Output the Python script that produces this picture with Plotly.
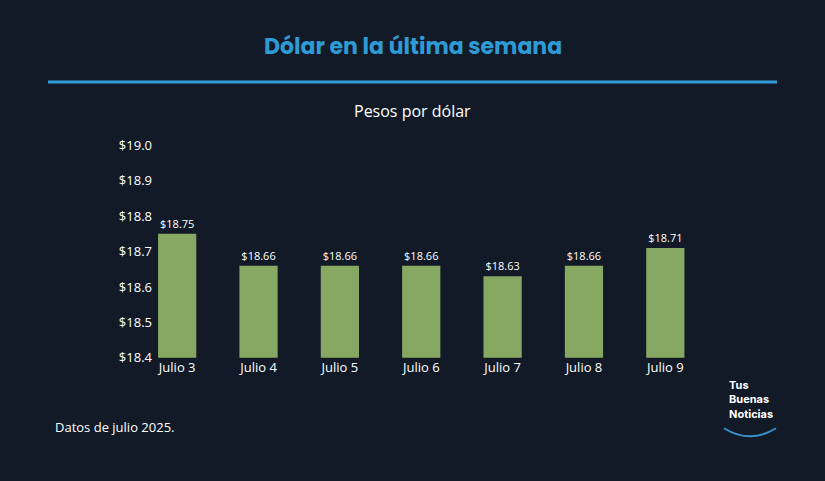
import plotly.graph_objects as go

dias = ["Julio 3", "Julio 4", "Julio 5", "Julio 6", "Julio 7", "Julio 8", "Julio 9"]
precios = [18.75, 18.66, 18.66, 18.66, 18.63, 18.66, 18.71]
ticks = [18.4, 18.5, 18.6, 18.7, 18.8, 18.9, 19.0]

bg = "#111a26"
W, H = 825, 481


def py(p):
    # pixel row -> paper fraction (calibrated against the screenshot)
    return 1 - ((p - 9.6) / 0.956) / H


fig = go.Figure(go.Bar(
    x=dias, y=precios, marker_color="#86a862", marker_line_width=0,
    text=[f"${v:.2f}" for v in precios], textposition="outside",
    textfont=dict(color="white", size=11), cliponaxis=False,
))

fig.update_layout(
    width=W, height=H, paper_bgcolor=bg, plot_bgcolor=bg,
    margin=dict(l=0, r=0, t=0, b=0),
    font=dict(family="Open Sans", color="white"),
    bargap=0.53, showlegend=False,
    xaxis=dict(domain=[136.5 / W, 706 / W], showgrid=False, zeroline=False,
               tickfont=dict(size=13, color="white"), ticks=""),
    yaxis=dict(domain=[py(356), py(145)], range=[18.4, 19.0], anchor="free", position=152 / W,
               tickvals=ticks, ticktext=[f"${t:.1f}" for t in ticks],
               showgrid=False, zeroline=False, tickfont=dict(size=13, color="white"),
               ticklabelstandoff=0),
    shapes=[dict(type="line", xref="paper", yref="paper", x0=48 / W, x1=777 / W,
                 y0=py(82), y1=py(82), line=dict(color="#2e9bd6", width=3)),
            dict(type="path", xref="paper", yref="paper",
                 path=f"M {724/W},{py(426)} Q {750/W},{py(442)} {776/W},{py(426)}",
                 line=dict(color="#3a8fc9", width=2))],
    annotations=[
        dict(text="<b>Dólar en la última semana</b>", x=0.5, y=py(47), xref="paper", yref="paper",
             yanchor="middle", showarrow=False,
             font=dict(size=22, color="#2e9bd6", family="Poppins, Open Sans")),
        dict(text="Pesos por dólar", x=0.5, y=py(111), xref="paper", yref="paper",
             yanchor="middle", showarrow=False, font=dict(size=16, color="white")),
        dict(text="Datos de julio 2025.", x=53 / W, y=py(425), xref="paper", yref="paper",
             xanchor="left", yanchor="middle", showarrow=False, font=dict(size=13, color="white")),
        dict(text="<b>Tus<br>Buenas<br>Noticias</b>", x=727 / W, y=py(397), xref="paper", yref="paper",
             xanchor="left", yanchor="middle", align="left", showarrow=False,
             font=dict(size=11, color="white", family="Inter")),
    ],
)

fig.write_html("out.html", config={"displayModeBar": False},
               post_script="document.body.style.margin='0';document.body.style.overflow='hidden';")
